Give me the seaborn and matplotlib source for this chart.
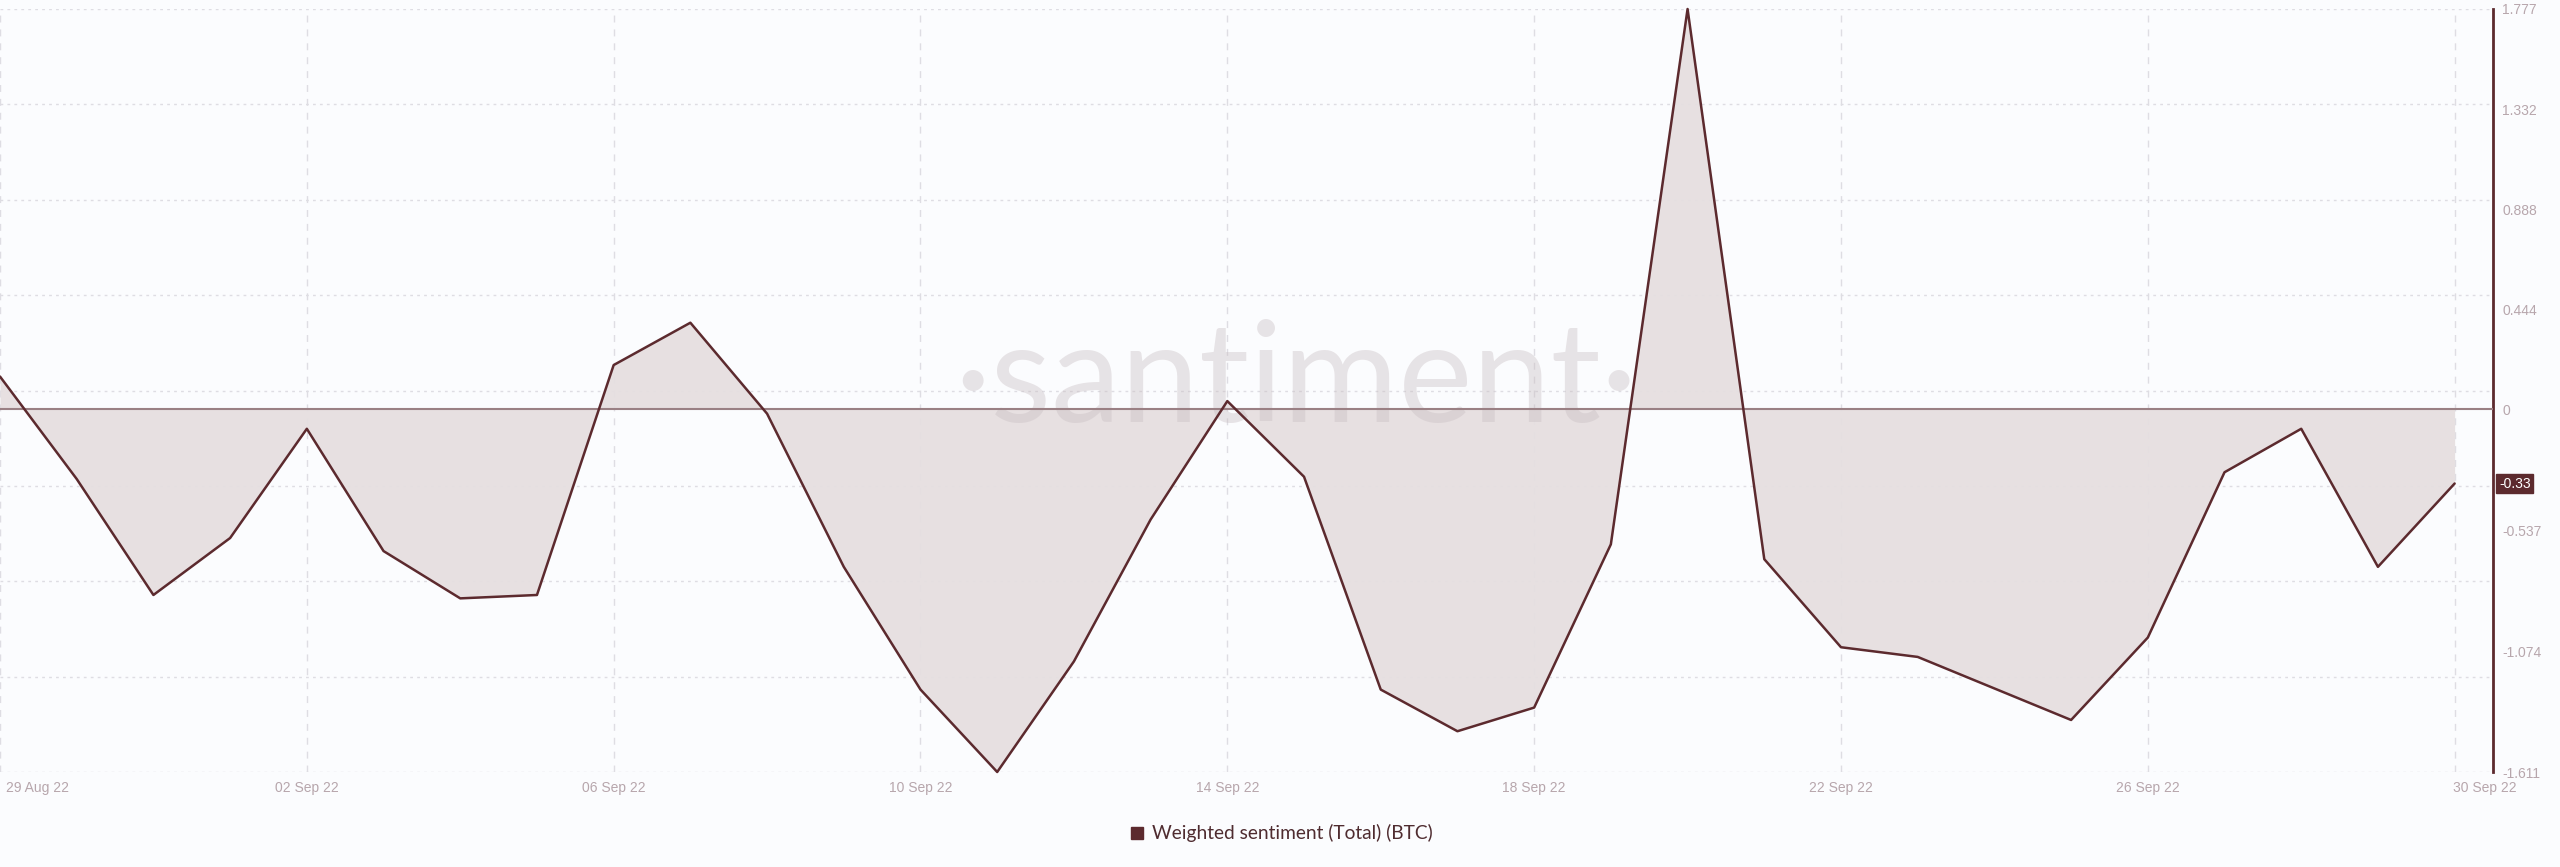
import numpy as np
import pandas as pd
import matplotlib
matplotlib.use("Agg")
import matplotlib.pyplot as plt
import matplotlib.transforms as mtransforms
from matplotlib.lines import Line2D
import seaborn as sns

# ---------------- data ----------------
dates = ["2022-08-29", "2022-08-30", "2022-08-31",
         "2022-09-01", "2022-09-02", "2022-09-03", "2022-09-04", "2022-09-05",
         "2022-09-06", "2022-09-07", "2022-09-08", "2022-09-09", "2022-09-10",
         "2022-09-11", "2022-09-12", "2022-09-13", "2022-09-14", "2022-09-15",
         "2022-09-16", "2022-09-17", "2022-09-18", "2022-09-19", "2022-09-20",
         "2022-09-21", "2022-09-22", "2022-09-23", "2022-09-24", "2022-09-25",
         "2022-09-26", "2022-09-27", "2022-09-28", "2022-09-29", "2022-09-30"]
sentiment = [0.145, -0.31, -0.825,
             -0.572, -0.087, -0.63, -0.84, -0.825,
             0.196, 0.384, -0.02, -0.70, -1.245,
             -1.611, -1.12, -0.49, 0.036, -0.30,
             -1.245, -1.43, -1.325, -0.60, 1.777,
             -0.666, -1.057, -1.10, -1.24, -1.38,
             -1.014, -0.28, -0.087, -0.70, -0.33]
xtick_dates = ["2022-08-29", "2022-09-02", "2022-09-06", "2022-09-10", "2022-09-14",
               "2022-09-18", "2022-09-22", "2022-09-26", "2022-09-30"]
xtick_labels = ["29 Aug 22", "02 Sep 22", "06 Sep 22", "10 Sep 22", "14 Sep 22",
                "18 Sep 22", "22 Sep 22", "26 Sep 22", "30 Sep 22"]
ytick_values = [1.777, 1.332, 0.888, 0.444, 0, -0.537, -1.074, -1.611]
ytick_labels = ["1.777", "1.332", "0.888", "0.444", "0", "-0.537", "-1.074", "-1.611"]
last_value_label = "-0.33"
series_name = "Weighted sentiment (Total) (BTC)"
watermark = "·santiment·"

# ---------------- style ----------------
BG = "#fbfcfe"
MAROON = "#5c2a2e"
FILL = "#e6dfe0"
TICK = "#b7a6ac"
GRID = "#dedde3"

sns.set_theme(style="white")
plt.rcParams["font.family"] = ["Liberation Sans", "DejaVu Sans"]

df = pd.DataFrame({"date": pd.to_datetime(dates), "value": sentiment})

W, H = 2560, 867
fig = plt.figure(figsize=(W / 100, H / 100), dpi=100, facecolor=BG)
ax = fig.add_axes([0, 1 - 772 / H, 2493 / W, (772 - 9) / H])
ax.set_facecolor(BG)

ymin, ymax = -1.611, 1.777
ax.set_ylim(ymin, ymax)
x0 = pd.Timestamp(dates[0])
x1 = pd.Timestamp(dates[-1]) + pd.Timedelta(hours=12)
ax.set_xlim(x0, x1)

# grid
for gy in np.linspace(ymin, ymax, 9):
    ax.axhline(gy, color=GRID, lw=1.0, ls=(0, (2, 3)), zorder=0)
for d in xtick_dates:
    ax.axvline(pd.Timestamp(d), color=GRID, lw=1.0, ls=(0, (5, 5)), zorder=0)

# area
ax.fill_between(df["date"], df["value"], 0, color=FILL, alpha=0.95, lw=0, zorder=2)

# watermark (over the area, translucent)
ax.text(0.52, 0.459, watermark, transform=ax.transAxes, ha="center", va="baseline",
        fontsize=101, color="#c8bec2", alpha=0.40, zorder=2.5,
        family=["Lato", "DejaVu Sans"], fontweight="normal")

ax.axhline(0, color="#9a8084", lw=1.5, zorder=3)
sns.lineplot(data=df, x="date", y="value", ax=ax, color=MAROON, lw=1.8,
             zorder=4, clip_on=False, legend=False)

# spines
for s in ["top", "left", "bottom"]:
    ax.spines[s].set_visible(False)
ax.spines["right"].set_color(MAROON)
ax.spines["right"].set_linewidth(2)

# y ticks on right
ax.yaxis.tick_right()
ax.set_yticks(ytick_values)
ax.set_yticklabels(ytick_labels)
ax.tick_params(axis="y", length=0, pad=6.5, labelsize=10, labelcolor=TICK)
for lab in ax.get_yticklabels():
    lab.set_horizontalalignment("left")

# x ticks
ax.set_xticks(pd.to_datetime(xtick_dates))
ax.set_xticklabels(xtick_labels)
ax.tick_params(axis="x", length=0, pad=6.5, labelsize=10, labelcolor=TICK)
xl = ax.get_xticklabels()
xl[0].set_horizontalalignment("left")
xl[0].set_transform(xl[0].get_transform() + mtransforms.ScaledTranslation(6 / 100, 0, fig.dpi_scale_trans))
xl[-1].set_transform(xl[-1].get_transform() + mtransforms.ScaledTranslation(30 / 100, 0, fig.dpi_scale_trans))

ax.set_xlabel("")
ax.set_ylabel("")

# last value badge
ax.annotate(last_value_label, xy=(1, sentiment[-1]), xycoords=("axes fraction", "data"),
            xytext=(6, 0), textcoords="offset pixels", ha="left", va="center",
            fontsize=10, color="white", annotation_clip=False,
            bbox=dict(boxstyle="square,pad=0.2", fc=MAROON, ec=MAROON))

# legend
handle = Line2D([], [], marker="s", ls="none", color=MAROON, markersize=9)
fig.legend([handle], [series_name], loc="center", bbox_to_anchor=(0.5, 0.039),
           frameon=False, handletextpad=0.25, handlelength=1.0,
           prop={"family": "Lato", "size": 13.8}, labelcolor="#4f2c30")

fig.savefig("out.png", dpi=100, facecolor=BG)
